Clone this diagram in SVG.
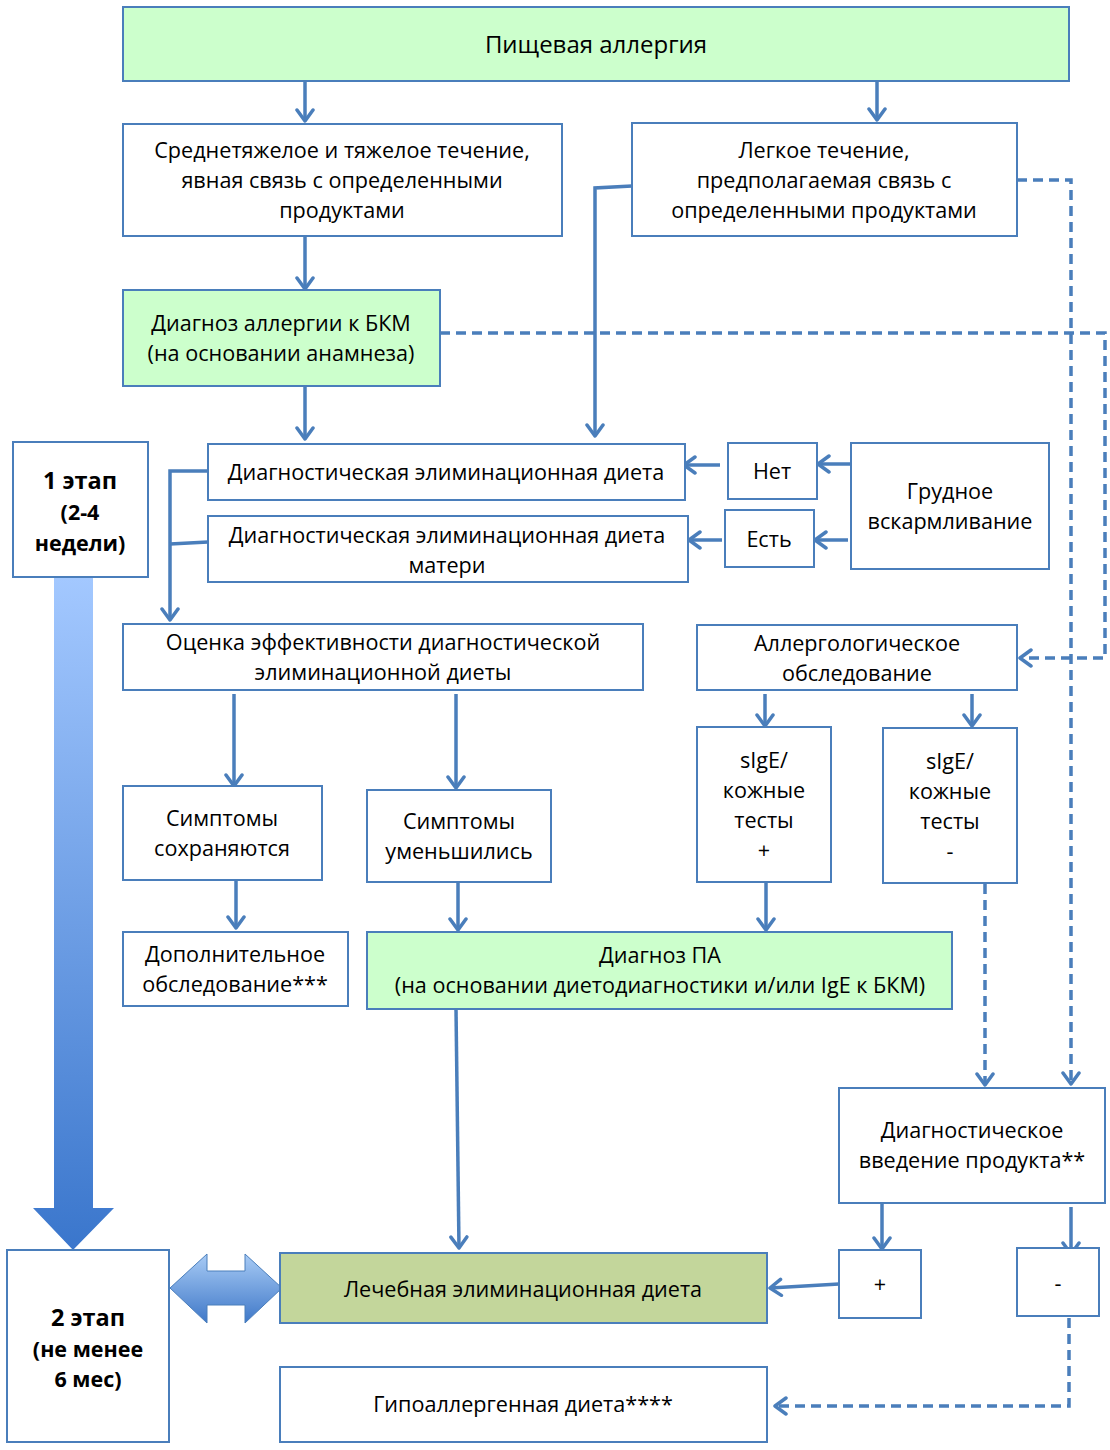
<svg xmlns="http://www.w3.org/2000/svg" width="1110" height="1450" viewBox="0 0 1110 1450">
<defs>
<style>
.b{fill:#fff;stroke:#4a7ebb;stroke-width:2}
.g{fill:#ccffcc;stroke:#4a7ebb;stroke-width:2}
.t{font-family:"Open Sans","Liberation Sans",Arial,sans-serif;font-size:21.6px;fill:#000;text-anchor:middle}
.bd{font-weight:bold;font-size:21.5px}
.bh{font-size:23.5px}
.c{fill:none;stroke:#4a7ebb;stroke-width:3.5}
.d{fill:none;stroke:#4a7ebb;stroke-width:3.5;stroke-dasharray:10,6}
</style>
<marker id="a" viewBox="0 0 20 20" refX="17" refY="10" markerWidth="20" markerHeight="20" orient="auto" markerUnits="userSpaceOnUse">
<path d="M6,2 L17,10 L6,18" fill="none" stroke="#4a7ebb" stroke-width="3.5" stroke-linecap="round" stroke-linejoin="round"/>
</marker>
<linearGradient id="bg" x1="0" y1="0" x2="0" y2="1">
<stop offset="0" stop-color="#a3c8ff"/>
<stop offset="1" stop-color="#3a76cc"/>
</linearGradient>
<linearGradient id="dg" x1="0" y1="0" x2="0" y2="1">
<stop offset="0" stop-color="#a8cbf5"/>
<stop offset="1" stop-color="#3f78c8"/>
</linearGradient>
</defs>

<g id="connectors">
<path class="c" d="M305,81 V121" marker-end="url(#a)"/>
<path class="c" d="M877,81 V120" marker-end="url(#a)"/>
<path class="c" d="M305,236 V289" marker-end="url(#a)"/>
<path class="c" d="M305,386 V439" marker-end="url(#a)"/>
<path class="c" d="M632,186 L595,188 V436" marker-end="url(#a)"/>
<path class="d" d="M1017,180 H1071 V1084" marker-end="url(#a)"/>
<path class="d" d="M440,333 H1105 V658 H1020" marker-end="url(#a)"/>
<path class="c" d="M720,465 H684" marker-end="url(#a)"/>
<path class="c" d="M851,464 H818" marker-end="url(#a)"/>
<path class="c" d="M722,540 H689" marker-end="url(#a)"/>
<path class="c" d="M848,540 H815" marker-end="url(#a)"/>
<path class="c" d="M208,471 H170 V620" marker-end="url(#a)"/>
<path class="c" d="M208,542 L170,544"/>
<path class="c" d="M234,694 V786" marker-end="url(#a)"/>
<path class="c" d="M456,694 V788" marker-end="url(#a)"/>
<path class="c" d="M765,694 V726" marker-end="url(#a)"/>
<path class="c" d="M972,694 V726" marker-end="url(#a)"/>
<path class="c" d="M236,878 V928" marker-end="url(#a)"/>
<path class="c" d="M458,882 V930" marker-end="url(#a)"/>
<path class="c" d="M766,882 V930" marker-end="url(#a)"/>
<path class="d" d="M985,884 V1085" marker-end="url(#a)"/>
<path class="c" d="M456,1009 L459,1248" marker-end="url(#a)"/>
<path class="c" d="M882,1203 V1249" marker-end="url(#a)"/>
<path class="c" d="M1071,1207 V1254" marker-end="url(#a)"/>
<path class="c" d="M839,1284 L770,1288" marker-end="url(#a)"/>
<path class="d" d="M1069,1318 V1406 H775" marker-end="url(#a)"/>
<path d="M54,578 H93 V1208 H114 L73,1250 L33,1208 H54 Z" fill="url(#bg)"/>
<path d="M170,1288 L207,1254 V1271 H245 V1254 L282,1288 L245,1323 V1305 H207 V1323 Z" fill="url(#dg)" stroke="#4a7ebb" stroke-width="1"/>
</g>

<g id="n1"><rect class="g" x="123" y="7" width="946" height="74"/><text class="t" x="596" y="53" style="font-size:24px">Пищевая аллергия</text></g>
<g id="n2"><rect class="b" x="123" y="124" width="439" height="112"/><text class="t" x="342" y="158">Среднетяжелое и тяжелое течение,</text><text class="t" x="342" y="188">явная связь с определенными</text><text class="t" x="342" y="218">продуктами</text></g>
<g id="n3"><rect class="b" x="632" y="123" width="385" height="113"/><text class="t" x="824" y="158">Легкое течение,</text><text class="t" x="824" y="188">предполагаемая связь с</text><text class="t" x="824" y="218">определенными продуктами</text></g>
<g id="n4"><rect class="g" x="123" y="290" width="317" height="96"/><text class="t" x="281" y="331">Диагноз аллергии к БКМ</text><text class="t" x="281" y="361">(на основании анамнеза)</text></g>
<g id="n5"><rect class="b" x="13" y="442" width="135" height="135"/><text class="t bd bh" x="80" y="489">1 этап</text><text class="t bd" x="80" y="520">(2-4</text><text class="t bd" x="80" y="551">недели)</text></g>
<g id="n6"><rect class="b" x="208" y="444" width="477" height="56"/><text class="t" x="446" y="480">Диагностическая элиминационная диета</text></g>
<g id="n7"><rect class="b" x="208" y="516" width="480" height="66"/><text class="t" x="447" y="543">Диагностическая элиминационная диета</text><text class="t" x="447" y="573">матери</text></g>
<g id="n8"><rect class="b" x="728" y="443" width="89" height="56"/><text class="t" x="772" y="479">Нет</text></g>
<g id="n9"><rect class="b" x="725" y="510" width="89" height="57"/><text class="t" x="769" y="547">Есть</text></g>
<g id="n10"><rect class="b" x="851" y="443" width="198" height="126"/><text class="t" x="950" y="499">Грудное</text><text class="t" x="950" y="529">вскармливание</text></g>
<g id="n11"><rect class="b" x="123" y="624" width="520" height="66"/><text class="t" x="383" y="650">Оценка эффективности диагностической</text><text class="t" x="383" y="680">элиминационной диеты</text></g>
<g id="n12"><rect class="b" x="697" y="625" width="320" height="65"/><text class="t" x="857" y="651">Аллергологическое</text><text class="t" x="857" y="681">обследование</text></g>
<g id="n13"><rect class="b" x="123" y="786" width="199" height="94"/><text class="t" x="222" y="826">Симптомы</text><text class="t" x="222" y="856">сохраняются</text></g>
<g id="n14"><rect class="b" x="367" y="790" width="184" height="92"/><text class="t" x="459" y="829">Симптомы</text><text class="t" x="459" y="859">уменьшились</text></g>
<g id="n15"><rect class="b" x="697" y="727" width="134" height="155"/><text class="t" x="764" y="768">sIgE/</text><text class="t" x="764" y="798">кожные</text><text class="t" x="764" y="828">тесты</text><text class="t" x="764" y="858">+</text></g>
<g id="n16"><rect class="b" x="883" y="728" width="134" height="155"/><text class="t" x="950" y="769">sIgE/</text><text class="t" x="950" y="799">кожные</text><text class="t" x="950" y="829">тесты</text><text class="t" x="950" y="859">-</text></g>
<g id="n17"><rect class="b" x="123" y="932" width="225" height="74"/><text class="t" x="235" y="962">Дополнительное</text><text class="t" x="235" y="992">обследование***</text></g>
<g id="n18"><rect class="g" x="367" y="932" width="585" height="77"/><text class="t" x="660" y="963">Диагноз ПА</text><text class="t" x="660" y="993">(на основании диетодиагностики и/или IgE к БКМ)</text></g>
<g id="n19"><rect class="b" x="839" y="1088" width="266" height="115"/><text class="t" x="972" y="1138">Диагностическое</text><text class="t" x="972" y="1168">введение продукта**</text></g>
<g id="n20"><rect class="b" x="7" y="1250" width="162" height="192"/><text class="t bd bh" x="88" y="1326">2 этап</text><text class="t bd" x="88" y="1357">(не менее</text><text class="t bd" x="88" y="1387">6 мес)</text></g>
<g id="n21"><rect x="280" y="1253" width="487" height="70" fill="#c3d69b" stroke="#4a7ebb" stroke-width="2"/><text class="t" x="523" y="1297">Лечебная элиминационная диета</text></g>
<g id="n22"><rect class="b" x="839" y="1250" width="82" height="68"/><text class="t" x="880" y="1292">+</text></g>
<g id="n23"><rect class="b" x="1017" y="1248" width="82" height="68"/><text class="t" x="1058" y="1291">-</text></g>
<g id="n24"><rect class="b" x="280" y="1367" width="487" height="75"/><text class="t" x="523" y="1412">Гипоаллергенная диета****</text></g>
</svg>
